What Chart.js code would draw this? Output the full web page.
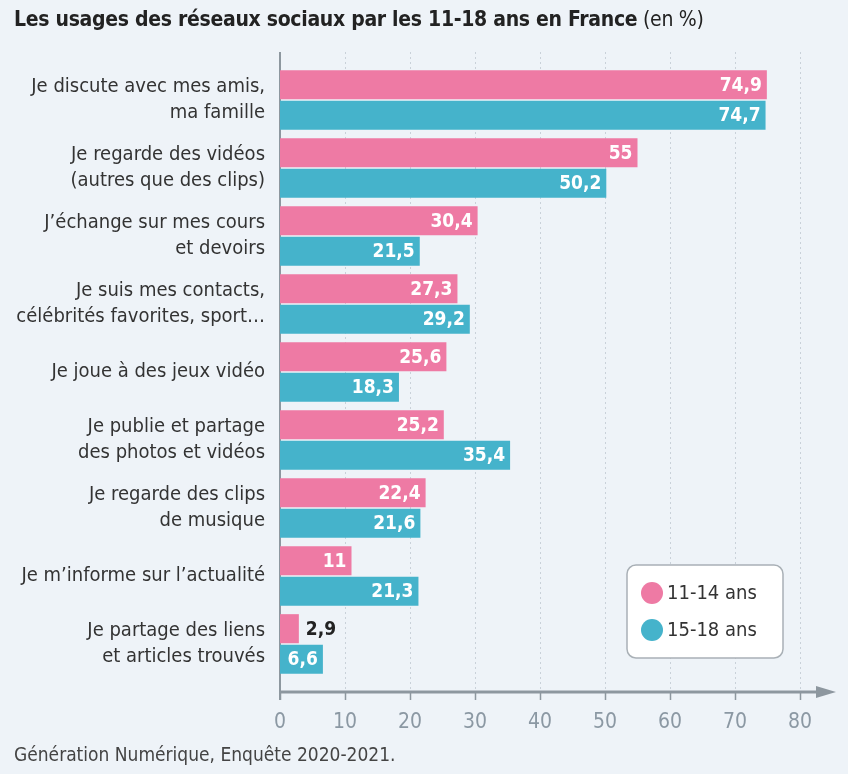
<!DOCTYPE html>
<html>
<head>
<meta charset="utf-8">
<script src="https://cdn.jsdelivr.net/npm/chart.js@4.4.0/dist/chart.umd.min.js"></script>
<style>
  body { margin: 0; background: #eef3f8; }
  #wrap { position: relative; width: 848px; height: 774px; }
  #title { position: absolute; left: 14px; top: 7px; font-family: "DejaVu Sans Condensed", "DejaVu Sans", sans-serif; font-size: 21px; color: #222; letter-spacing: -0.3px; }
  #title b { font-weight: bold; }
  #source { position: absolute; left: 14px; top: 743px; font-family: "DejaVu Sans Condensed", "DejaVu Sans", sans-serif; font-size: 19px; color: #444; }
  canvas { position: absolute; left: 0; top: 0; }
</style>
</head>
<body>
<div id="wrap">
  <canvas id="chart" width="848" height="774"></canvas>
  <div id="title"><b>Les usages des réseaux sociaux par les 11-18 ans en France</b> (en %)</div>
  <div id="source">Génération Numérique, Enquête 2020-2021.</div>
</div>
<script>
// categories and values
const categories = [
    ['Je discute avec mes amis,', 'ma famille'],
    ['Je regarde des vidéos', '(autres que des clips)'],
    ['J\u2019échange sur mes cours', 'et devoirs'],
    ['Je suis mes contacts,', 'célébrités favorites, sport…'],
    ['Je joue à des jeux vidéo'],
    ['Je publie et partage', 'des photos et vidéos'],
    ['Je regarde des clips', 'de musique'],
    ['Je m\u2019informe sur l\u2019actualité'],
    ['Je partage des liens', 'et articles trouvés']
];
const ages1114 = [74.9, 55, 30.4, 27.3, 25.6, 25.2, 22.4, 11, 2.9];
const ages1518 = [74.7, 50.2, 21.5, 29.2, 18.3, 35.4, 21.6, 21.3, 6.6];
const seriesNames = ['11-14 ans', '15-18 ans'];
const xTicks = [0, 10, 20, 30, 40, 50, 60, 70, 80];

const PINK = '#ee7aa4';
const TEAL = '#45b3cb';
const FONT = '"DejaVu Sans Condensed", "DejaVu Sans", sans-serif';

document.addEventListener('DOMContentLoaded', function () {
    // axis, grid and arrow drawn by hand so the axis can sit below the bars
    const axisPlugin = {
        id: 'axisPlugin',
        beforeDatasetsDraw(chart) {
            const ctx = chart.ctx;
            const x = chart.scales.x;
            const area = chart.chartArea;
            const axisY = area.bottom + 14;
            const x0 = x.getPixelForValue(0);
            ctx.save();
            // dotted grid
            ctx.strokeStyle = '#c9d1d9';
            ctx.lineWidth = 1;
            ctx.setLineDash([2, 3]);
            xTicks.slice(1).forEach(v => {
                const px = Math.round(x.getPixelForValue(v)) + 0.5;
                ctx.beginPath();
                ctx.moveTo(px, area.top - 14);
                ctx.lineTo(px, axisY);
                ctx.stroke();
            });
            ctx.setLineDash([]);
            // tick marks
            ctx.strokeStyle = '#8d979f';
            ctx.lineWidth = 1.5;
            xTicks.forEach(v => {
                const px = Math.round(x.getPixelForValue(v)) + 0.5;
                ctx.beginPath();
                ctx.moveTo(px, axisY);
                ctx.lineTo(px, axisY + 8);
                ctx.stroke();
            });
            // y axis line
            ctx.lineWidth = 2;
            ctx.beginPath();
            ctx.moveTo(x0, area.top - 14);
            ctx.lineTo(x0, axisY + 8);
            ctx.stroke();
            // x axis with arrow
            ctx.lineWidth = 3;
            ctx.beginPath();
            ctx.moveTo(x0, axisY);
            ctx.lineTo(820, axisY);
            ctx.stroke();
            ctx.fillStyle = '#8d979f';
            ctx.beginPath();
            ctx.moveTo(836, axisY);
            ctx.lineTo(816, axisY - 6);
            ctx.lineTo(816, axisY + 6);
            ctx.closePath();
            ctx.fill();
            ctx.restore();
        },
        afterDatasetsDraw(chart) {
            const ctx = chart.ctx;
            ctx.save();
            ctx.font = 'bold 19px ' + FONT;
            ctx.textBaseline = 'middle';
            chart.data.datasets.forEach((ds, di) => {
                chart.getDatasetMeta(di).data.forEach((bar, i) => {
                    const label = String(ds.data[i]).replace('.', ',');
                    const w = ctx.measureText(label).width;
                    const barW = bar.x - bar.base;
                    if (barW > w + 10) {
                        ctx.fillStyle = '#ffffff';
                        ctx.textAlign = 'right';
                        ctx.fillText(label, bar.x - 5, bar.y + 1);
                    } else {
                        ctx.fillStyle = '#222222';
                        ctx.textAlign = 'left';
                        ctx.fillText(label, bar.x + 7, bar.y + 1);
                    }
                });
            });
            // legend box
            const lx = 627, ly = 565, lw = 156, lh = 93;
            ctx.fillStyle = '#ffffff';
            ctx.strokeStyle = '#a9b0b6';
            ctx.lineWidth = 1.5;
            ctx.beginPath();
            ctx.roundRect(lx, ly, lw, lh, 9);
            ctx.fill();
            ctx.stroke();
            const colors = [PINK, TEAL];
            ctx.font = '20px ' + FONT;
            ctx.textAlign = 'left';
            seriesNames.forEach((name, i) => {
                const cy = ly + 28 + i * 37;
                ctx.fillStyle = colors[i];
                ctx.beginPath();
                ctx.arc(lx + 25, cy, 11, 0, Math.PI * 2);
                ctx.fill();
                ctx.fillStyle = '#333333';
                ctx.fillText(name, lx + 40, cy + 1);
            });
            ctx.restore();
        }
    };

    const ctx = document.getElementById('chart').getContext('2d');
    new Chart(ctx, {
        type: 'bar',
        data: {
            labels: categories,
            datasets: [
                { label: seriesNames[0], data: ages1114, backgroundColor: PINK },
                { label: seriesNames[1], data: ages1518, backgroundColor: TEAL }
            ]
        },
        options: {
            indexAxis: 'y',
            responsive: false,
            animation: false,
            categoryPercentage: 0.9,
            barPercentage: 0.95,
            layout: { padding: { top: 66, right: 48, bottom: 0, left: 0 } },
            plugins: {
                legend: { display: false },
                tooltip: { enabled: false }
            },
            scales: {
                x: {
                    min: 0,
                    max: 80,
                    afterBuildTicks: s => { s.ticks = xTicks.map(v => ({ value: v })); },
                    afterFit: s => { s.height = 96; },
                    grid: { display: false },
                    border: { display: false },
                    ticks: {
                        padding: 24,
                        color: '#8b98a3',
                        font: { family: FONT, size: 21 }
                    }
                },
                y: {
                    afterFit: s => { s.width = 280; },
                    grid: { display: false },
                    border: { display: false },
                    ticks: {
                        padding: 7,
                        color: '#333333',
                        font: { family: FONT, size: 20, lineHeight: 1.28 }
                    }
                }
            }
        },
        plugins: [axisPlugin]
    });
});
</script>
</body>
</html>
